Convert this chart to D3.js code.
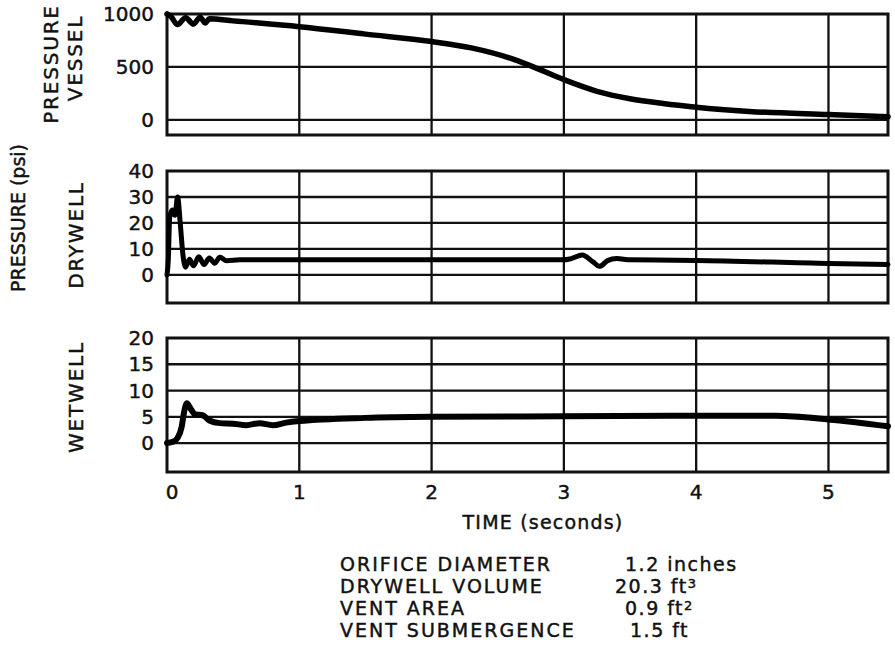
<!DOCTYPE html>
<html>
<head>
<meta charset="utf-8">
<script src="https://cdn.jsdelivr.net/npm/d3@7"></script>
<style>
body { margin: 0; background: #fff; }
text { font-family: "DejaVu Sans", sans-serif; fill: #111; stroke: #111; stroke-width: 0.45px; }
</style>
</head>
<body>
<svg width="895" height="651"></svg>
<script>
//	time axis (seconds)
var timeTicks = [0, 1, 2, 3, 4, 5];

//	pressure vessel, psi  [time, pressure]
var vesselData = [
  [0, 1000], [0.03, 975], [0.08, 900], [0.14, 965], [0.2, 905], [0.25, 970],
  [0.29, 915], [0.32, 955], [0.5, 935], [1.0, 880], [1.5, 810], [2.0, 740],
  [2.3, 680], [2.6, 580], [2.75, 510], [3.0, 380], [3.25, 270], [3.5, 200],
  [3.75, 155], [4.0, 120], [4.4, 80], [5.0, 50], [5.45, 30]
];
var vesselTicks = [0, 500, 1000];
var vesselGrid = [0, 500];

//	drywell, psi
var drywellData = [
  [0, 0], [0.01, 6], [0.02, 22], [0.04, 25], [0.06, 23], [0.08, 30], [0.1, 20],
  [0.12, 8], [0.14, 3], [0.17, 6], [0.2, 3.5], [0.24, 7], [0.28, 4], [0.32, 6.5],
  [0.36, 4.5], [0.4, 6.8], [0.45, 5.5], [0.55, 5.8], [1.0, 5.8], [2.0, 5.8],
  [3.0, 5.8], [3.05, 6.2], [3.14, 7.7], [3.22, 5], [3.27, 3.3], [3.33, 5.5],
  [3.4, 6.3], [3.5, 5.8], [4.0, 5.6], [5.0, 4.4], [5.45, 4]
];
var drywellTicks = [0, 10, 20, 30, 40];
var drywellGrid = [0, 10, 20, 30];

//	wetwell, psi
var wetwellData = [
  [0, 0], [0.05, 0.3], [0.08, 1], [0.11, 3], [0.13, 6], [0.15, 7.6], [0.18, 6.5],
  [0.21, 5.5], [0.27, 5.3], [0.32, 4.3], [0.4, 3.8], [0.5, 3.7], [0.6, 3.4],
  [0.7, 3.8], [0.8, 3.4], [0.9, 3.9], [1.0, 4.2], [1.5, 4.8], [2.0, 5.0],
  [3.0, 5.1], [4.0, 5.2], [4.6, 5.2], [5.0, 4.5], [5.45, 3.2]
];
var wetwellTicks = [0, 5, 10, 15, 20];
var wetwellGrid = [0, 5, 10, 15];

//	test conditions
var condLabels = ["ORIFICE DIAMETER", "DRYWELL VOLUME", "VENT AREA", "VENT SUBMERGENCE"];
var condValues = ["1.2 inches", "20.3 ft", "0.9 ft", "1.5 ft"];
var condSup = ["", "3", "2", ""];

var svg = d3.select("svg");

var x = d3.scaleLinear().domain([0, 5.45]).range([167, 888]);

//	one entry per strip
var panels = [
  { label: ["PRESSURE", "VESSEL"], data: vesselData, ticks: vesselTicks, grid: vesselGrid,
    y: d3.scaleLinear().domain([-143, 1000]).range([135, 14]), mid: 64, width: 5.5 },
  { label: ["DRYWELL"], data: drywellData, ticks: drywellTicks, grid: drywellGrid,
    y: d3.scaleLinear().domain([-10.8, 40]).range([303, 171]), mid: 235, width: 5 },
  { label: ["WETWELL"], data: wetwellData, ticks: wetwellTicks, grid: wetwellGrid,
    y: d3.scaleLinear().domain([-5.5, 20]).range([472, 338]), mid: 397, width: 6 }
];

panels.forEach(function(p) {
  var g = svg.append("g");
  var top = p.y.range()[1], bottom = p.y.range()[0];

  // horizontal grid
  g.selectAll(".hgrid")
    .data(p.grid)
    .enter().append("line")
    .attr("x1", x.range()[0]).attr("x2", x.range()[1])
    .attr("y1", function(d) { return p.y(d); })
    .attr("y2", function(d) { return p.y(d); })
    .attr("stroke", "#111").attr("stroke-width", 2.3);

  // vertical grid
  g.selectAll(".vgrid")
    .data(timeTicks.slice(1))
    .enter().append("line")
    .attr("x1", function(d) { return x(d); })
    .attr("x2", function(d) { return x(d); })
    .attr("y1", top).attr("y2", bottom)
    .attr("stroke", "#111").attr("stroke-width", 2.3);

  // frame
  g.append("rect")
    .attr("x", x.range()[0]).attr("y", top)
    .attr("width", x.range()[1] - x.range()[0])
    .attr("height", bottom - top)
    .attr("fill", "none")
    .attr("stroke", "#111").attr("stroke-width", 3);

  // tick labels
  g.selectAll(".tick")
    .data(p.ticks)
    .enter().append("text")
    .attr("x", 154)
    .attr("y", function(d) { return p.y(d); })
    .attr("dy", "0.36em")
    .attr("text-anchor", "end")
    .style("font-size", "20px")
    .text(function(d) { return d; });

  // strip label
  p.label.forEach(function(s, i) {
    var bx = p.label.length > 1 ? 58 + i * 24 : 83;
    g.append("text")
      .attr("transform", "translate(" + bx + "," + (p.mid - (p.label.length > 1 && i == 1 ? 6 : 0)) + ") rotate(-90)")
      .attr("text-anchor", "middle")
      .style("font-size", "20px")
      .style("letter-spacing", "1.8px")
      .text(s);
  });

  // trace
  var line = d3.line()
    .x(function(d) { return x(d[0]); })
    .y(function(d) { return p.y(d[1]); })
    .curve(d3.curveMonotoneX);

  g.append("path")
    .datum(p.data)
    .attr("d", line)
    .attr("fill", "none")
    .attr("stroke", "#000")
    .attr("stroke-width", p.width)
    .attr("stroke-linejoin", "round")
    .attr("stroke-linecap", "round");
});

//	time labels
svg.selectAll(".xlab")
  .data(timeTicks)
  .enter().append("text")
  .attr("x", function(d) { return x(d) + (d == 0 ? 5 : 0); })
  .attr("y", 499)
  .attr("text-anchor", "middle")
  .style("font-size", "20px")
  .text(function(d) { return d; });

svg.append("text")
  .attr("x", 543).attr("y", 529)
  .attr("text-anchor", "middle")
  .style("font-size", "19px")
  .style("letter-spacing", "1.2px")
  .text("TIME (seconds)");

svg.append("text")
  .attr("transform", "translate(25,218) rotate(-90)")
  .attr("text-anchor", "middle")
  .style("font-size", "19px")
  .text("PRESSURE (psi)");

//	conditions block
var cond = svg.append("g");
var condX = [625, 615, 625, 630];
condLabels.forEach(function(s, i) {
  var by = 571 + i * 22;
  cond.append("text")
    .attr("x", 340).attr("y", by)
    .style("font-size", "19px")
    .style("letter-spacing", "2px")
    .text(s);
  var t = cond.append("text")
    .attr("x", condX[i]).attr("y", by)
    .style("font-size", "19px")
    .style("letter-spacing", "1.5px")
    .text(condValues[i]);
  if (condSup[i]) {
    t.append("tspan")
      .attr("dy", -5)
      .style("font-size", "13px")
      .text(condSup[i]);
  }
});
</script>
</body>
</html>
